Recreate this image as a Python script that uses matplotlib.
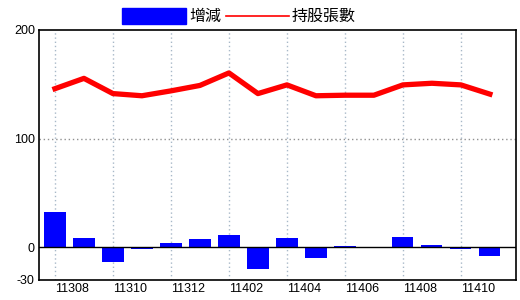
import matplotlib
matplotlib.use("Agg")
import matplotlib.pyplot as plt
from matplotlib.patches import Rectangle
from matplotlib.lines import Line2D

months = ["11308", "11309", "11310", "11311", "11312", "11401", "11402", "11403",
          "11404", "11405", "11406", "11407", "11408", "11409", "11410", "11411"]
change = [33, 9, -13, -1.5, 4, 7.6, 11.3, -20, 8.5, -10, 1.2, 0, 9.4, 2.1, -1.5, -8]
holdings = [146, 155.5, 141.5, 139.5, 144, 149, 160.5, 141.5, 149.5, 139.5, 140, 140,
            149.5, 151, 149.5, 141]
tick_labels = ["11308", "11310", "11312", "11402", "11404", "11406", "11408", "11410"]

plt.rcParams['font.family'] = ['Noto Sans CJK TC', 'DejaVu Sans']

fig = plt.figure(figsize=(5.2, 3.0), dpi=100)
ax = fig.add_axes([39/520, 20/300, (516-39)/520, 250/300])

x = list(range(len(months)))
ax.bar(x, change, width=0.73, color="#0000ff", zorder=2)
ax.plot(x, holdings, color="#ff0000", linewidth=3.8, zorder=3, solid_joinstyle='round')
ax.axhline(0, color="black", linewidth=1.0, zorder=2.5)

ax.set_xlim(-0.55, 15.9)
ax.set_ylim(-30, 200)
ax.set_yticks([-30, 0, 100, 200])
ax.set_yticklabels(["-30", "0", "100", "200"], fontsize=9, family=['Liberation Sans'])
tick_pos = [months.index(t) for t in tick_labels]
ax.set_xticks(tick_pos)
ax.set_xticklabels(tick_labels, fontsize=9, ha='left', family=['Liberation Sans'])
ax.tick_params(axis='both', length=0)
ax.tick_params(axis='y', pad=3)
ax.tick_params(axis='x', pad=2)

for p in tick_pos:
    ax.axvline(p, color="#a8b8c8", linestyle=(0, (1, 2)), linewidth=1.0, zorder=1)
ax.axhline(100, color="#909090", linestyle=(0, (1, 2)), linewidth=1.0, zorder=1)

for s in ax.spines.values():
    s.set_color("black")
    s.set_linewidth(1.2)

# legend
fig.patches.append(Rectangle((122/520, 1 - 24/300), 64/520, 16/300,
                             transform=fig.transFigure, color="#0000ff"))
fig.text(189/520, 1 - 16/300, "增減", fontsize=11.5, va='center', ha='left')
fig.lines.append(Line2D([226/520, 289/520], [1 - 16/300, 1 - 16/300],
                        transform=fig.transFigure, color="#ff0000", linewidth=1.2))
fig.text(292/520, 1 - 16/300, "持股張數", fontsize=11.5, va='center', ha='left')

fig.savefig("out.png", dpi=100)
